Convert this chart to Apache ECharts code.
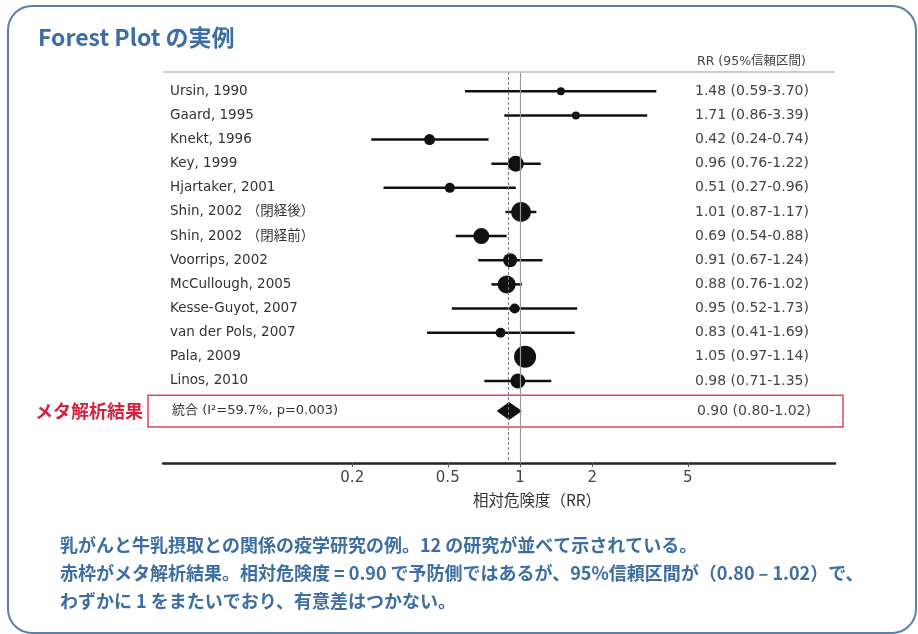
<!DOCTYPE html>
<html><head><meta charset="utf-8">
<script src="https://cdn.jsdelivr.net/npm/echarts@6/dist/echarts.min.js"></script>
<style>html,body{margin:0;padding:0;background:#fff}#c{width:918px;height:634px}</style>
</head><body><div id="c"></div>
<script>
const studies = ["Ursin, 1990","Gaard, 1995","Knekt, 1996","Key, 1999","Hjartaker, 2001","Shin, 2002 （閉経後）","Shin, 2002 （閉経前）","Voorrips, 2002","McCullough, 2005","Kesse-Guyot, 2007","van der Pols, 2007","Pala, 2009","Linos, 2010"];
const rr = [1.48,1.71,0.42,0.96,0.51,1.01,0.69,0.91,0.88,0.95,0.83,1.05,0.98];
const lo = [0.59,0.86,0.24,0.76,0.27,0.87,0.54,0.67,0.76,0.52,0.41,0.97,0.71];
const hi = [3.70,3.39,0.74,1.22,0.96,1.17,0.88,1.24,1.02,1.73,1.69,1.14,1.35];
const weight = [8,8,11,16,10,20,16,14,18,10,10,22,15];
const pooledLabel = "統合 (I²=59.7%, p=0.003)";
const pooled = [0.90,0.80,1.02];
const tickLabels = [0.2,0.5,1,2,5];
const colHeader = "RR (95%信頼区間)";
const xLabel = "相対危険度（RR）";

const L = Math.log10;
const FONT = '"Noto Sans CJK JP","DejaVu Sans",sans-serif';
const LAT = '"DejaVu Sans","Noto Sans CJK JP",sans-serif';
const n = studies.length;
const pooledIdx = n + 0.25;

const chart = echarts.init(document.getElementById('c'));
const rows = studies.map((s,i)=>[L(lo[i]),L(hi[i]),L(rr[i]),i,weight[i],s,`${rr[i].toFixed(2)} (${lo[i].toFixed(2)}-${hi[i].toFixed(2)})`]);

chart.setOption({
  animation:false,
  backgroundColor:'#fff',
  title:{text:'Forest Plot の実例',left:33,top:21,textStyle:{fontFamily:FONT,fontSize:23,fontWeight:'bold',color:'#3d6ea3'}},
  grid:{left:163,right:83,top:72,height:391},
  xAxis:{type:'value',min:-1.4875,max:1.3125,
    axisLine:{show:true,onZero:false,lineStyle:{color:'#222',width:2.5}},
    axisTick:{show:true,customValues:tickLabels.map(L),length:4,lineStyle:{color:'#555'}},
    axisLabel:{show:true,customValues:tickLabels.map(L),formatter:v=>String(+Math.pow(10,v).toFixed(2)),color:'#444',fontSize:15,fontFamily:LAT,margin:8},
    splitLine:{show:false}
  },
  yAxis:{type:'value',inverse:true,min:-0.8,max:15.4,show:false},
  graphic:[
    {type:'rect',shape:{x:8,y:6,width:908,height:627,r:24},style:{fill:'none',stroke:'#5b7fa9',lineWidth:2},z:-1},
    {type:'text',x:537,y:500,style:{text:xLabel,fill:'#333',font:'15.5px '+FONT,align:'center',verticalAlign:'middle'}},
    {type:'text',left:60,top:536,style:{text:'乳がんと牛乳摂取との関係の疫学研究の例。12 の研究が並べて示されている。',fill:'#3d6ea3',font:'bold 18px '+FONT}},
    {type:'text',left:60,top:564,style:{text:'赤枠がメタ解析結果。相対危険度 = 0.90 で予防側ではあるが、95%信頼区間が（0.80 – 1.02）で、',fill:'#3d6ea3',font:'bold 18px '+FONT}},
    {type:'text',left:60,top:592,style:{text:'わずかに 1 をまたいでおり、有意差はつかない。',fill:'#3d6ea3',font:'bold 18px '+FONT}}
  ],
  series:[
    {type:'custom',data:rows,clip:false,
      renderItem:(p,api)=>{
        const a=api.coord([api.value(0),api.value(3)]);
        const b=api.coord([api.value(1),api.value(3)]);
        const c=api.coord([api.value(2),api.value(3)]);
        const r=api.value(4)/2;
        const s=rows[p.dataIndex];
        return {type:'group',children:[
          {type:'line',shape:{x1:a[0],y1:a[1],x2:b[0],y2:b[1]},style:{stroke:'#111',lineWidth:2.5}},
          {type:'circle',shape:{cx:c[0],cy:c[1],r:r},style:{fill:'#111'}},
          {type:'text',x:170,y:c[1],style:{text:s[5],fill:'#333',font:'13.5px '+LAT,verticalAlign:'middle'}},
          {type:'text',x:695,y:c[1],style:{text:s[6],fill:'#444',font:'14px '+LAT,verticalAlign:'middle'}}
        ]};
      },
      markLine:{silent:true,symbol:'none',label:{show:false},data:[
        {xAxis:0,lineStyle:{color:'#999',type:'solid',width:1.2}},
        {xAxis:L(pooled[0]),lineStyle:{color:'#777',type:[3,2],width:1}},
        {yAxis:-0.8,lineStyle:{color:'#bbb',type:'solid',width:1.5}}
      ]}
    },
    {type:'custom',data:[[L(pooled[1]),L(pooled[2]),L(pooled[0]),pooledIdx]],clip:false,
      renderItem:(p,api)=>{
        const a=api.coord([api.value(0),api.value(3)]);
        const b=api.coord([api.value(1),api.value(3)]);
        const c=api.coord([api.value(2),api.value(3)]);
        const top=api.coord([api.value(2),api.value(3)-0.66]);
        const bot=api.coord([api.value(2),api.value(3)+0.66]);
        const h=9;
        return {type:'group',children:[
          {type:'polygon',shape:{points:[[a[0],a[1]],[c[0],c[1]-h],[b[0],b[1]],[c[0],c[1]+h]]},style:{fill:'#111'}},
          {type:'rect',shape:{x:148,y:top[1],width:695,height:bot[1]-top[1]},style:{fill:'none',stroke:'#e0455e',lineWidth:1.5}},
          {type:'text',x:172,y:c[1],style:{text:pooledLabel,fill:'#333',font:'13px '+LAT,verticalAlign:'middle'}},
          {type:'text',x:697,y:c[1],style:{text:`${pooled[0].toFixed(2)} (${pooled[1].toFixed(2)}-${pooled[2].toFixed(2)})`,fill:'#444',font:'14px '+LAT,verticalAlign:'middle'}},
          {type:'text',x:35,y:c[1],style:{text:'メタ解析結果',fill:'#d6223f',font:'bold 18px '+FONT,verticalAlign:'middle'}},
          {type:'text',x:697,y:62,style:{text:colHeader,fill:'#444',font:'12.5px '+LAT,verticalAlign:'middle'}}
        ]};
      }
    }
  ]
});
</script></body></html>
